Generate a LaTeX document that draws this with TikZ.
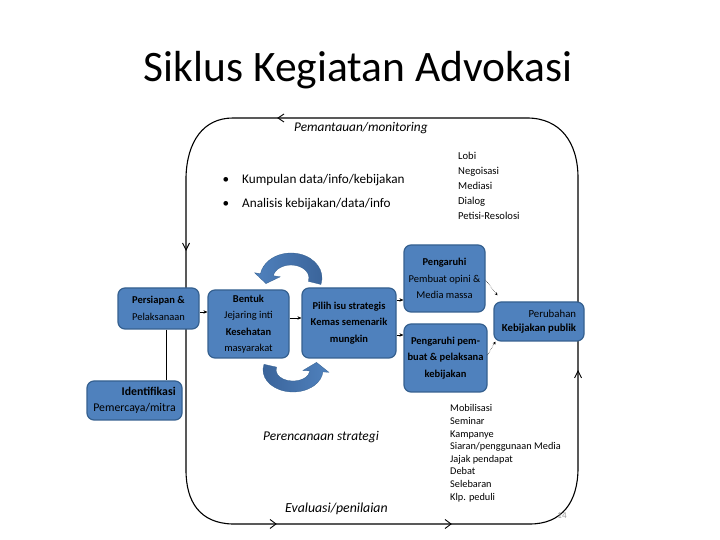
\documentclass[tikz,border=0pt]{standalone}
\usepackage{fontspec}
\setmainfont{Carlito}
\usetikzlibrary{arrows.meta,calc}
\definecolor{boxfill}{HTML}{4F81BD}
\definecolor{boxdraw}{HTML}{35608F}
\definecolor{arcdark}{HTML}{3A6399}
\begin{document}
\begin{tikzpicture}[x=1pt,y=1pt,
  box/.style={draw=boxdraw, line width=1.2pt, fill=boxfill, rounded corners=7pt,
    inner sep=1pt, align=center, text=black,
    font=\fontsize{10.5}{16.5}\selectfont},
  arr/.style={-{Stealth[length=4pt,width=3.5pt]}, line width=0.6pt},
  thinarr/.style={-{Stealth[length=3pt,width=3pt]}, line width=0.45pt},
  loopline/.style={line width=1.1pt},
  chev/.style={line width=0.9pt},
  lbl/.style={inner sep=0pt, text=black},
  curvearrow/.style={draw=boxdraw, line width=0.3pt},
]
\useasboundingbox (0,0) rectangle (720,540);

% title
\node[lbl, anchor=base, font=\fontsize{43.5}{50}\selectfont] (title) at (358,458) {Siklus Kegiatan Advokasi};

% big cycle loop
\draw[loopline] (283,422) -- (233,422) .. controls (203,422) and (187,398) .. (186,363)
  -- (186,70) .. controls (186,38) and (200,17) .. (232,16)
  -- (530,16) .. controls (562,16) and (578,38) .. (578,72)
  -- (578,362) .. controls (578,398) and (560,422) .. (527,422) -- cycle;
% direction marks on the loop
\draw[chev] (284,426) -- (278,422) -- (284,418);
\draw[chev] (182.5,297) -- (186,290) -- (189.5,297);
\draw[chev] (574.5,162) -- (578,169) -- (581.5,162);
\draw[chev] (270,20.5) -- (276,16) -- (270,11.5);
\draw[chev] (445,20.5) -- (451,16) -- (445,11.5);

% curved block arrows
\shade[curvearrow, left color=boxfill, right color=arcdark]
  (320.94,255.53) arc[start angle=-15, end angle=170, x radius=31, y radius=25]
  -- (254.6,267.2) -- (266.0,256.4) -- (280.2,263.2) -- (273.27,264.26)
  arc[start angle=170, end angle=-15, x radius=18, y radius=13] -- cycle;
\shade[curvearrow, left color=arcdark, right color=boxfill]
  (264.02,175.69) arc[start angle=165, end angle=355, x radius=30, y radius=22]
  -- (328.9,167.7) -- (316.5,177.6) -- (302.9,169.5) -- (309.94,169.04)
  arc[start angle=355, end angle=165, x radius=17, y radius=11] -- cycle;

% boxes
\node[box, minimum width=81pt, minimum height=41pt] (persiapan) at (158.5,231.5)
  {\textbf{Persiapan \&}\\Pelaksanaan};
\node[box, minimum width=95pt, minimum height=39pt, align=right,
  font=\fontsize{11.8}{16}\selectfont] (identifikasi) at (134.5,139.5)
  {\textbf{Identifikasi}\\Pemercaya/mitra};
\node[box, minimum width=81pt, minimum height=68pt] (bentuk) at (248.5,216)
  {\textbf{Bentuk}\\Jejaring inti\\\textbf{Kesehatan}\\masyarakat};
\node[box, minimum width=94pt, minimum height=70pt] (pilih) at (349,217)
  {\textbf{Pilih isu strategis}\\\textbf{Kemas semenarik}\\\textbf{mungkin}};
\node[box, minimum width=81pt, minimum height=67pt] (peng1) at (444.5,261.5)
  {\textbf{Pengaruhi}\\Pembuat opini \&\\Media massa};
\node[box, minimum width=83pt, minimum height=68pt] (peng2) at (445.5,182)
  {\textbf{Pengaruhi pem-}\\\textbf{buat \& pelaksana}\\\textbf{kebijakan}};
\node[box, minimum width=90pt, minimum height=39pt, align=right,
  font=\fontsize{10.8}{14}\selectfont] (perubahan) at (539,218.5)
  {Perubahan\\\textbf{Kebijakan publik}};

% connectors
\draw[line width=0.8pt] ([xshift=7.5pt]persiapan.south) -- ([xshift=7.5pt]persiapan.south |- identifikasi.north);
\draw[arr] ([yshift=-3.5pt]persiapan.east) -- ([yshift=-3.5pt]persiapan.east -| bentuk.west);
\draw[arr] ([yshift=6pt]bentuk.east) -- ([yshift=6pt]bentuk.east -| pilih.west);
\draw[arr] ([yshift=23pt]pilih.east) -- ([yshift=23pt]pilih.east -| peng1.west);
\draw[arr] ([yshift=-12pt]pilih.east) -- ([yshift=-12pt]pilih.east -| peng2.west);
\draw[thinarr, densely dotted] ([yshift=-1.5pt]peng1.east) -- ([shift={(4pt,6pt)}]perubahan.north west);
\draw[thinarr, densely dotted] ([yshift=3pt]peng2.east) -- ([shift={(2pt,0pt)}]perubahan.south west);

% labels on the canvas
\node[lbl, anchor=base west, font=\fontsize{13.3}{16}\selectfont\itshape] (monitoring) at (294,408) {Pemantauan/monitoring};
\node[lbl, anchor=base, font=\fontsize{13.2}{16}\selectfont] (b1) at (226,356) {•};
\node[lbl, anchor=base west, font=\fontsize{13.2}{16}\selectfont] (kumpulan) at (242,356) {Kumpulan data/info/kebijakan};
\node[lbl, anchor=base, font=\fontsize{13.2}{16}\selectfont] (b2) at (226,332) {•};
\node[lbl, anchor=base west, font=\fontsize{13.2}{16}\selectfont] (analisis) at (242,332) {Analisis kebijakan/data/info};

\foreach \t [count=\i] in {Lobi,Negoisasi,Mediasi,Dialog,Petisi-Resolosi}
  \node[lbl, anchor=base west, font=\fontsize{10.6}{13}\selectfont] (lobi\i) at (458,{380-15*(\i-1)}) {\t};

\foreach \t [count=\i] in {Mobilisasi,Seminar,Kampanye,Siaran/penggunaan Media,Jajak pendapat,Debat,Selebaran,Klp. peduli}
  \node[lbl, anchor=base west, font=\fontsize{10.3}{12}\selectfont] (mob\i) at (450,{128-12.6*(\i-1)}) {\t};

\node[lbl, anchor=base west, font=\fontsize{13.4}{16}\selectfont\itshape] (perencanaan) at (263,99) {Perencanaan strategi};
\node[lbl, anchor=base west, font=\fontsize{13.8}{16}\selectfont\itshape] (evaluasi) at (285,27) {Evaluasi/penilaian};
\node[lbl, text=gray!80, font=\fontsize{9}{10}\selectfont] (pagenum) at (562,24) {14};
\end{tikzpicture}
\end{document}
